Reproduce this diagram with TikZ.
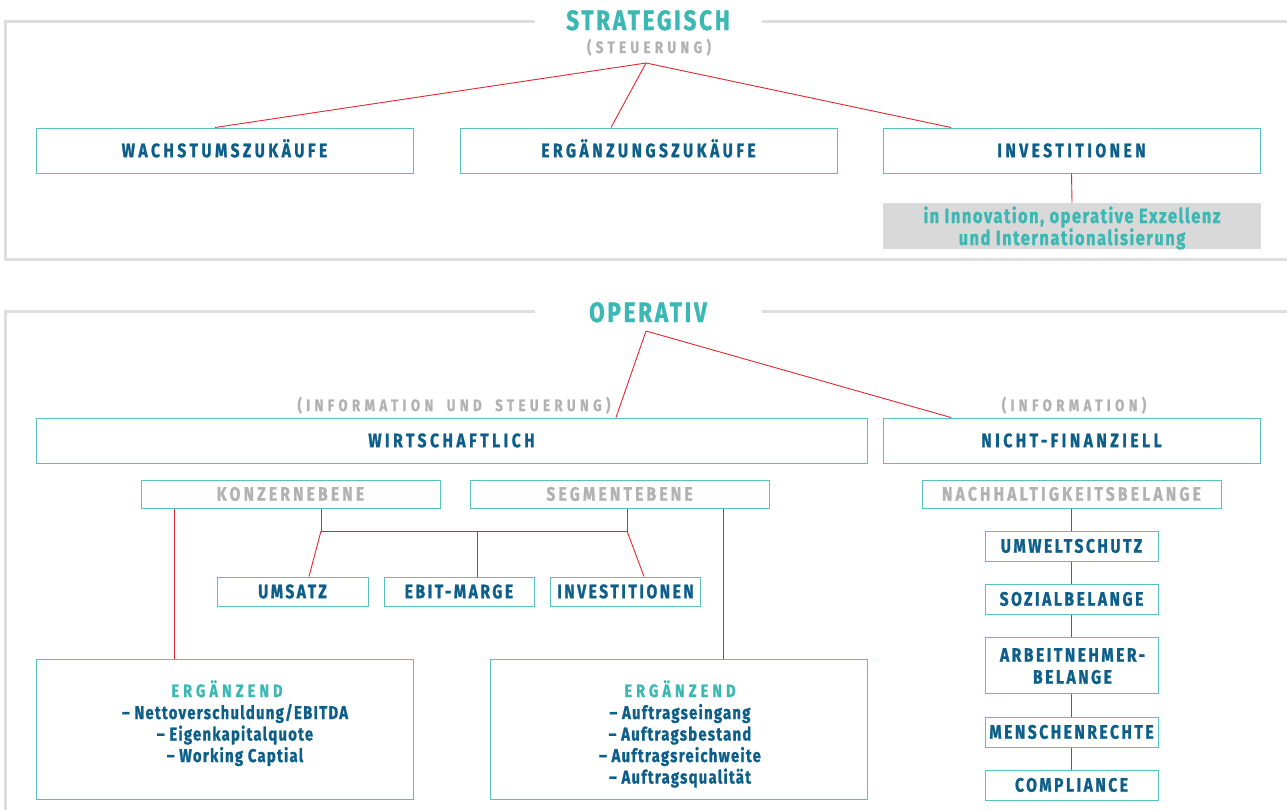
\documentclass[tikz,border=0pt]{standalone}
\usepackage{fontspec}
\setmainfont{Fira Sans}[FakeStretch=0.8, BoldFeatures={FakeBold=1.1}]
\definecolor{tealc}{HTML}{3BB8B3}
\definecolor{bluec}{HTML}{0D5F89}
\definecolor{grayt}{HTML}{B2B2B2}
\definecolor{boxc}{HTML}{56C1BD}
\definecolor{redc}{HTML}{E3262F}
\definecolor{framec}{HTML}{DEDEDE}
\definecolor{fillg}{HTML}{D9D9D9}
\begin{document}
\begin{tikzpicture}[x=1pt,y=-1pt,
  lbl/.style={font=\fontsize{19.5}{22}\selectfont\bfseries\addfontfeature{LetterSpace=18}, text=bluec, text height=13.4pt, text depth=0pt, inner sep=0pt},
  bx/.style={lbl, draw=boxc, line width=1pt},
  sbx/.style={bx, font=\fontsize{19.5}{22}\selectfont\bfseries\addfontfeature{LetterSpace=13}},
  gbx/.style={bx, text=grayt, font=\fontsize{19.5}{22}\selectfont\bfseries\addfontfeature{LetterSpace=16.5}},
  title/.style={font=\fontsize{28}{32}\selectfont\bfseries\addfontfeature{LetterSpace=10}, text=tealc, inner sep=0pt, anchor=base},
  sub/.style={font=\fontsize{16.5}{20}\selectfont\bfseries\addfontfeature{LetterSpace=27}, text=grayt, inner sep=0pt, anchor=base},
  lst/.style={font=\fontsize{18.5}{21}\selectfont\bfseries\addfontfeature{LetterSpace=7}, text=bluec, inner sep=0pt, anchor=base},
  gtx/.style={font=\fontsize{20.5}{22}\selectfont\bfseries\addfontfeature{LetterSpace=7.5}, text=tealc, inner sep=0pt, anchor=base},
  erg/.style={font=\fontsize{18}{20}\selectfont\bfseries\addfontfeature{LetterSpace=23}, text=tealc, inner sep=0pt, anchor=base},
  rl/.style={draw=redc, line width=0.9pt},
  frame/.style={draw=framec, line width=3pt}
]
\useasboundingbox (0,0) rectangle (1287,809);
% frames
\draw[frame] (535,21) -- (5.5,21) -- (5.5,259) -- (1290,259);
\draw[frame] (762,21) -- (1290,21);
\draw[frame] (535,311) -- (5.5,311) -- (5.5,812);
\draw[frame] (762,311) -- (1290,311);

% ---------- strategisch
\node[title] (strat) at (648,30) {STRATEGISCH};
\node[sub] (steu) at (649,53) {(STEUERUNG)};
\coordinate (sapex) at (646,63);
\node[bx, minimum width=377pt, minimum height=45pt] (wz) at (224.5,150.5) {WACHSTUMSZUKÄUFE};
\node[bx, minimum width=377pt, minimum height=45pt] (ez) at (648.5,150.5) {ERGÄNZUNGSZUKÄUFE};
\node[bx, minimum width=377pt, minimum height=45pt] (inv) at (1071.5,150.5) {INVESTITIONEN};
\node[fill=fillg, minimum width=378pt, minimum height=46pt, inner sep=0pt] (ginv) at (1072,226) {};
\node[gtx] (g1) at (1072,223) {in Innovation, operative Exzellenz};
\node[gtx] (g2) at (1072,245) {und Internationalisierung};
\draw[rl] (sapex) -- ([xshift=-9.5pt]wz.north);
\draw[rl] (sapex) -- ([xshift=-37.5pt]ez.north);
\draw[rl] (sapex) -- ([xshift=-120.5pt]inv.north);
\draw[rl] (inv.south) -- (ginv.north);

% ---------- operativ
\node[title] (op) at (648,322) {OPERATIV};
\coordinate (oapex) at (646,331);
\node[sub] (ius) at (454,411) {(INFORMATION\hspace{6pt} UND\hspace{6pt} STEUERUNG)};
\node[sub] (info) at (1074,411) {(INFORMATION)};
\node[bx, minimum width=831pt, minimum height=45pt] (wirt) at (451.5,440.5) {WIRTSCHAFTLICH};
\node[bx, minimum width=377pt, minimum height=45pt] (nf) at (1071.5,440.5) {NICHT-FINANZIELL};
\draw[rl] (oapex) -- ([xshift=164.5pt]wirt.north);
\draw[rl] (oapex) -- ([xshift=-120.5pt]nf.north);

\node[gbx, minimum width=299pt, minimum height=28pt] (konz) at (290.5,494) {KONZERNEBENE};
\node[gbx, minimum width=299pt, minimum height=28pt] (seg) at (619.5,494) {SEGMENTEBENE};
\node[gbx, minimum width=299pt, minimum height=28pt] (nh) at (1071.5,494) {NACHHALTIGKEITSBELANGE};

\node[sbx, minimum width=151pt, minimum height=29pt] (ums) at (292.5,591.5) {UMSATZ};
\node[sbx, minimum width=150pt, minimum height=29pt] (ebit) at (459,591.5) {EBIT-MARGE};
\node[sbx, minimum width=150pt, minimum height=29pt] (inv2) at (625.5,591.5) {INVESTITIONEN};

\coordinate (bl) at (321,531);
\coordinate (bm) at (477,531);
\coordinate (br) at (627,531);
\draw[rl] ([xshift=30.5pt]konz.south) -- (bl) -- (br) -- ([xshift=7.5pt]seg.south);
\draw[rl] (bl) -- ([xshift=16.5pt]ums.north);
\draw[rl] (bm) -- ([xshift=18pt]ebit.north);
\draw[rl] (br) -- ([xshift=18.5pt]inv2.north);

% erganzend boxes
\node[draw=boxc, line width=1pt, minimum width=377pt, minimum height=140pt, inner sep=0pt] (ergL) at (224.5,729) {};
\node[draw=boxc, line width=1pt, minimum width=377pt, minimum height=140pt, inner sep=0pt] (ergR) at (678.5,729) {};
\draw[rl] ([xshift=-116.5pt]konz.south) -- ([xshift=-50.5pt]ergL.north);
\draw[rl] ([xshift=103.5pt]seg.south) -- ([xshift=44.5pt]ergR.north);

\node[erg] (eLt) at (227,697) {ERGÄNZEND};
\node[lst] (eL1) at (235,719) {– Nettoverschuldung/EBITDA};
\node[lst] (eL2) at (235,740.5) {– Eigenkapitalquote};
\node[lst] (eL3) at (235,762) {– Working Captial};

\node[erg] (eRt) at (680,697) {ERGÄNZEND};
\node[lst] (eR1) at (680,719) {– Auftragseingang};
\node[lst] (eR2) at (680,740.5) {– Auftragsbestand};
\node[lst] (eR3) at (680,762) {– Auftragsreichweite};
\node[lst] (eR4) at (680,783.5) {– Auftragsqualität};

% nicht-finanziell chain
\node[sbx, minimum width=173pt, minimum height=30pt] (umw) at (1071.5,546) {UMWELTSCHUTZ};
\node[sbx, minimum width=173pt, minimum height=30pt] (soz) at (1071.5,599) {SOZIALBELANGE};
\node[draw=boxc, line width=1pt, minimum width=173pt, minimum height=56pt, inner sep=0pt] (arb) at (1071.5,665) {};
\node[sbx, draw=none] (arb1) at (1072.5,655) {ARBEITNEHMER-};
\node[sbx, draw=none] (arb2) at (1072.5,677) {BELANGE};
\node[sbx, minimum width=173pt, minimum height=30pt] (men) at (1071.5,732) {MENSCHENRECHTE};
\node[sbx, minimum width=173pt, minimum height=30pt] (comp) at (1071.5,785) {COMPLIANCE};
\draw[rl] (nh.south) -- (umw.north);
\draw[rl] (umw.south) -- (soz.north);
\draw[rl] (soz.south) -- (arb.north);
\draw[rl] (arb.south) -- (men.north);
\draw[rl] (men.south) -- (comp.north);
\end{tikzpicture}
\end{document}
